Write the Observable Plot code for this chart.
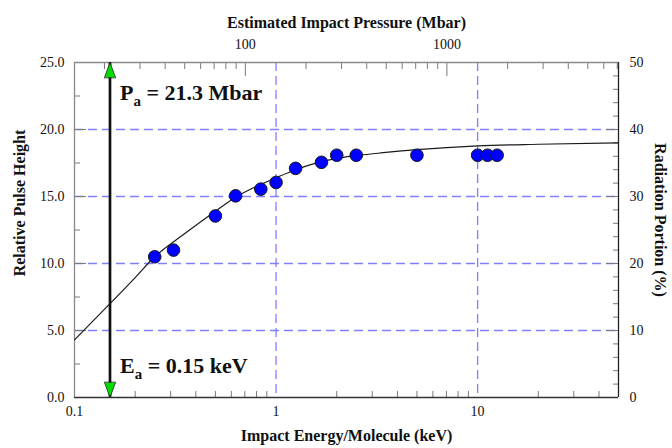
<!DOCTYPE html>
<html><head><meta charset="utf-8">
<script src="https://cdn.jsdelivr.net/npm/d3@7"></script>
<script src="https://cdn.jsdelivr.net/npm/@observablehq/plot@0.6"></script>
<style>
body{margin:0;background:#fff}
#chart{width:672px;height:448px}
</style>
</head><body><div id="chart"></div>
<script>
// measured points: impact energy (keV) vs relative pulse height
const energy = [0.25, 0.31, 0.5, 0.63, 0.84, 1.0, 1.25, 1.68, 2.0, 2.5, 5.0, 10.0, 11.2, 12.5];
const pulse  = [10.5, 11.0, 13.55, 15.05, 15.55, 16.05, 17.1, 17.55, 18.08, 18.08, 18.08, 18.08, 18.08, 18.08];
// fitted curve
const curveEnergy = [0.1, 0.15, 0.2, 0.25, 0.35, 0.5, 0.63, 0.8, 1.0, 1.25, 1.5, 2.0, 2.5, 3.3, 5, 10, 20, 50];
const curvePulse  = [4.3, 7.0, 8.95, 10.5, 12.2, 13.9, 14.95, 15.75, 16.4, 17.0, 17.4, 17.85, 18.05, 18.25, 18.5, 18.78, 18.9, 19.0];
// axes
const xLabels = [0.1, 1, 10];
const xMinor = [0.2,0.3,0.4,0.5,0.6,0.7,0.8,0.9,2,3,4,5,6,7,8,9,20,30,40];
const xGrid = [1, 10];
const yLabels = [0, 5, 10, 15, 20, 25];
const yMinor = [2.5, 7.5, 12.5, 17.5, 22.5];
const yGrid = [5, 10, 15, 20];
const rightLabels = [0, 10, 20, 30, 40, 50];
const rightMinor = [2,4,6,8,12,14,16,18,22,24,26,28,32,34,36,38,42,44,46,48];
const rightMajor = [10, 20, 30, 40];
const pressureLabels = [100, 1000];
const pressureMinor = [20,30,40,50,60,70,80,90,200,300,400,500,600,700,800,900,2000,3000,4000,5000,6000,7000];
// threshold annotation
const Pa = 21.3, Ea = 0.15;
const mbarPerKeV = Pa / Ea;
const annotations = [{y: 22.2, text: "P_a = 21.3 Mbar"}, {y: 1.85, text: "E_a = 0.15 keV"}];

const pts = energy.map((e, i) => ({e, p: pulse[i]}));
const fit = curveEnergy.map((e, i) => ({e, p: curvePulse[i]}));

const serif = "'Liberation Serif', 'Times New Roman', serif";
const gridStyle = {stroke: "#8080ff", strokeDasharray: "9,5", strokeWidth: 1.3};
const tickStyle = {stroke: "#7a7a7a", tickFormat: () => "", label: null};
const tri = {draw(ctx, l) { ctx.moveTo(-5.5, 0); ctx.lineTo(0, -l); ctx.lineTo(5.5, 0); ctx.closePath(); }};

const chart = Plot.plot({
  width: 672, height: 448,
  marginLeft: 74, marginRight: 54, marginTop: 62, marginBottom: 51,
  x: {type: "log", domain: [0.1, 50], axis: null},
  y: {domain: [0, 25], axis: null},
  style: {fontFamily: serif, fontSize: "14px", color: "#111", background: "#fff", overflow: "visible"},
  marks: [
    Plot.ruleX(xGrid, {x: d => d, ...gridStyle}),
    Plot.ruleY(yGrid, {y: d => d, ...gridStyle}),
    // ticks (inward)
    Plot.axisX(xMinor, {anchor: "bottom", tickSize: 6, dy: -6, ...tickStyle}),
    Plot.axisX(pressureMinor.map(p => p / mbarPerKeV), {anchor: "top", tickSize: 6, dy: 6, ...tickStyle}),
    Plot.axisX(pressureLabels.map(p => p / mbarPerKeV), {anchor: "top", tickSize: 13, dy: 13, ...tickStyle}),
    Plot.axisY(yMinor, {anchor: "left", tickSize: 6, dx: 6, ...tickStyle}),
    Plot.axisY(yGrid, {anchor: "left", tickSize: 12, dx: 12, ...tickStyle}),
    Plot.axisY(rightMinor.map(v => v / 2), {anchor: "right", tickSize: 6, dx: -6, ...tickStyle}),
    Plot.axisY(rightMajor.map(v => v / 2), {anchor: "right", tickSize: 13, dx: -13, ...tickStyle}),
    // frame
    Plot.ruleX([0.1], {stroke: "#8a8a8a", strokeWidth: 1.3}),
    Plot.ruleY([25], {stroke: "#8a8a8a", strokeWidth: 1.3}),
    Plot.ruleX([50], {stroke: "#222", strokeWidth: 1.3}),
    Plot.ruleY([0], {stroke: "#333", strokeWidth: 1.3}),
    // fit curve and data
    Plot.line(fit, {x: "e", y: "p", stroke: "#1a1a1a", strokeWidth: 1.2, curve: "monotone-x"}),
    Plot.dot(pts, {x: "e", y: "p", r: 6.3, fill: "#0000ff", stroke: "#1a1a1a", strokeWidth: 1}),
    // threshold arrow
    Plot.ruleX([Ea], {x: d => d, y1: 0, y2: 25, stroke: "#111", strokeWidth: 2.7}),
    Plot.vector([25], {x: () => Ea, y: d => d, length: 15, anchor: "end", shape: tri, fill: "#00dd00", stroke: "#222", strokeWidth: 0.8}),
    Plot.vector([0], {x: () => Ea, y: d => d, length: 15, rotate: 180, anchor: "end", shape: tri, fill: "#00dd00", stroke: "#222", strokeWidth: 0.8}),
    Plot.text(annotations, {x: () => Ea, y: "y", text: "text", dx: 10, textAnchor: "start", lineAnchor: "bottom", fontSize: 22, fontWeight: "bold", fill: "#111"}),
    // tick labels
    Plot.text(xLabels, {x: d => d, y: () => 0, dy: 14, text: d => String(d), fontSize: 14}),
    Plot.text(pressureLabels, {x: p => p / mbarPerKeV, y: () => 25, dy: -18, text: d => String(d), fontSize: 14}),
    Plot.text(yLabels, {x: () => 0.1, y: d => d, dx: -10, textAnchor: "end", text: d => d.toFixed(1), fontSize: 14}),
    Plot.text(rightLabels, {x: () => 50, y: d => d / 2, dx: 11, textAnchor: "start", text: d => String(d), fontSize: 14}),
    // axis titles
    Plot.text(["Estimated Impact Pressure (Mbar)"], {frameAnchor: "top", textAnchor: "middle", dy: -46, fontSize: 16, fontWeight: "bold"}),
    Plot.text(["Impact Energy/Molecule (keV)"], {frameAnchor: "bottom", textAnchor: "middle", dy: 43, fontSize: 16, fontWeight: "bold"}),
    Plot.text(["Relative Pulse Height"], {frameAnchor: "left", textAnchor: "middle", rotate: -90, dx: -55, dy: -27, fontSize: 16, fontWeight: "bold"}),
    Plot.text(["Radiation Portion (%)"], {frameAnchor: "right", textAnchor: "middle", rotate: 90, dx: 42, dy: -10, fontSize: 16, fontWeight: "bold"})
  ]
});

// subscripts in the annotations
chart.querySelectorAll("text").forEach(t => {
  const s = t.textContent;
  const m = s.match(/^(\w)_(\w)(.*)$/);
  if (!m || t.children.length) return;
  t.textContent = "";
  const ns = "http://www.w3.org/2000/svg";
  const a = document.createElementNS(ns, "tspan"); a.textContent = m[1];
  const b = document.createElementNS(ns, "tspan"); b.textContent = m[2];
  b.setAttribute("dy", "6"); b.setAttribute("font-size", "15");
  const c = document.createElementNS(ns, "tspan"); c.textContent = m[3];
  c.setAttribute("dy", "-6");
  t.append(a, b, c);
});

document.getElementById("chart").append(chart);
</script>
</body></html>
